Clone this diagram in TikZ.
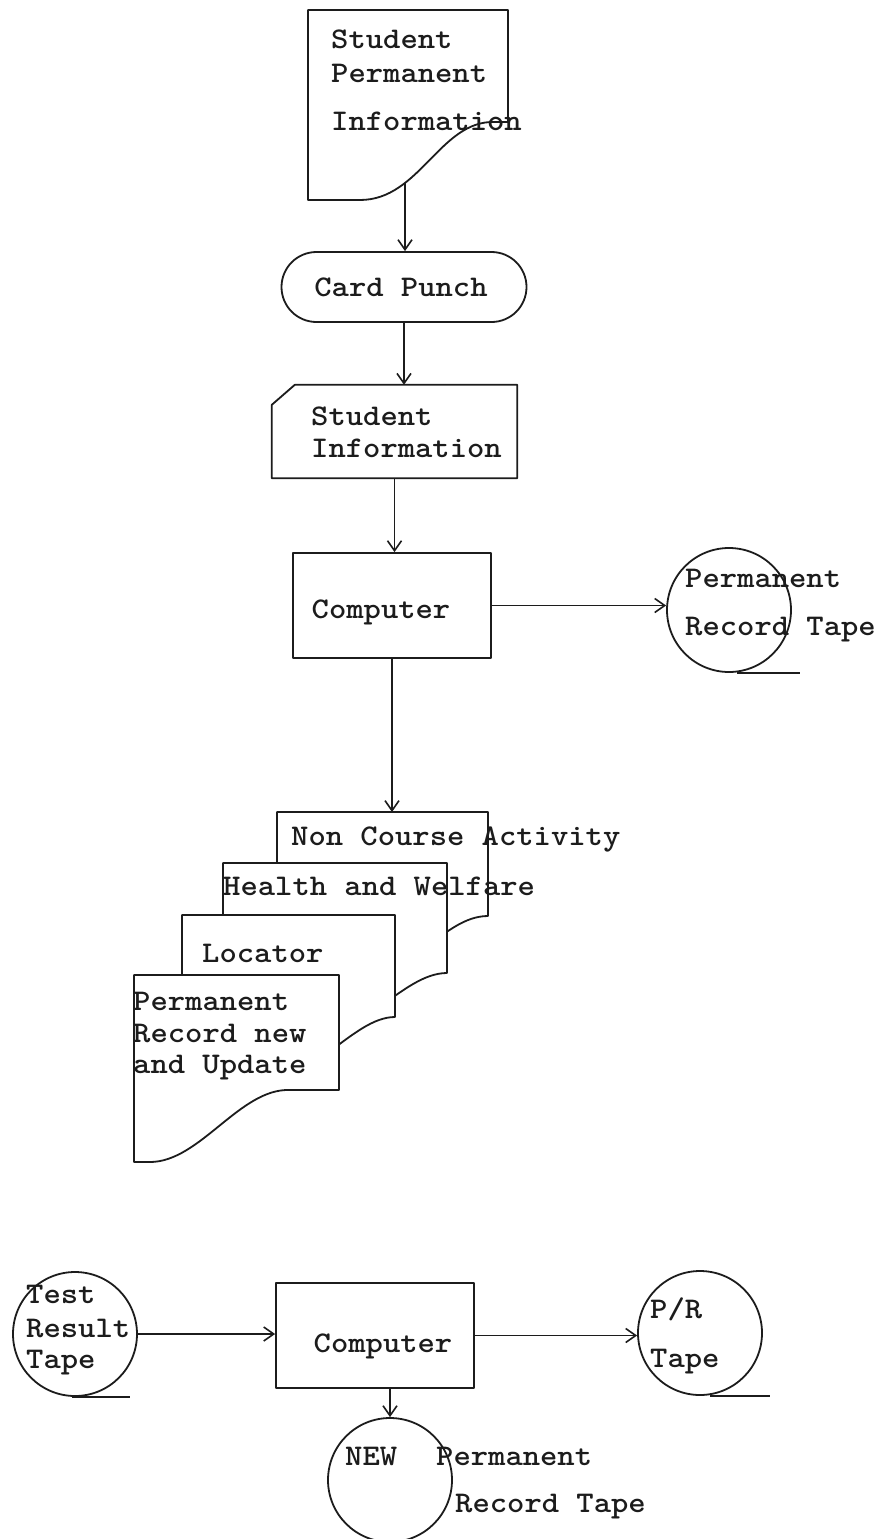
\documentclass[tikz,border=0pt]{standalone}
\usepackage{fontspec}
\newfontfamily\typer{lmmonolt10-bold.otf}[FakeStretch=1.1]
\usetikzlibrary{arrows.meta,calc}
\definecolor{ink}{HTML}{1C1C1C}

\begin{document}
\begin{tikzpicture}[x=1pt,y=-1pt,
  every node/.style={font=\typer\fontsize{30pt}{34pt}\selectfont, text=ink},
  line/.style={line width=1.8pt, draw=ink, line join=round},
  flow/.style={line, -{Straight Barb[length=10pt,width=14pt,line width=1.6pt]}},
  sheet/.style={line, fill=white},
  procbox/.style={line, rectangle, inner sep=0pt},
  tape/.style={line, circle, inner sep=0pt, minimum size=124pt},
  lbl/.style={anchor=base west, inner sep=0pt},
  ctr/.style={anchor=base, inner sep=0pt}]

\fill[white] (0,0) rectangle (884,1539);
\useasboundingbox (0,0) rectangle (884,1539);

% ---------- input document ----------
\draw[sheet] (308,10) -- (508,10) -- (508,122) -- (495,122)
  .. controls (440,120) and (420,200) .. (360,200) -- (308,200) -- cycle;
\coordinate (srcout) at (405,183);
\node[lbl] (src1) at (331,48)  {Student};
\node[lbl] (src2) at (331,82)  {Permanent};
\node[lbl] (src3) at (331,130) {Information};

% ---------- card punch ----------
\node[line, rectangle, rounded corners=35pt, minimum width=245pt,
      minimum height=70pt] (punch) at (404,287) {};
\node[ctr] (punchtxt) at (401,296) {Card Punch};

% ---------- punched cards ----------
\node[minimum width=245pt, minimum height=93pt, inner sep=0pt] (info) at (394.5,431.5) {};
\draw[sheet] ($(info.north west)+(23,0)$) -- (info.north east) -- (info.south east)
  -- (info.south west) -- ($(info.north west)+(0,20)$) -- cycle;
\node[lbl] (info1) at (311,425) {Student};
\node[lbl] (info2) at (311,457) {Information};

% ---------- computer ----------
\node[procbox, minimum width=198pt, minimum height=105pt] (comp1) at (392,605.5) {};
\node[ctr] (comp1txt) at (381,618) {Computer};

% ---------- permanent record tape ----------
\node[tape] (ptape) at (729,610) {};
\draw[line] (ptape.south) ++(8,0) -- ++(63,0);
\node[lbl] (ptape1) at (685,587) {Permanent};
\node[lbl] (ptape2) at (685,635) {Record Tape};

% ---------- report stack (back to front) ----------
\draw[sheet] (277,812) -- (488,812) -- (488,916)
  .. controls (442,916) and (410,982) .. (340,987) -- (277,987) -- cycle;
\coordinate (stacktop) at (392,812);
\draw[sheet] (223,863) -- (447,863) -- (447,973)
  .. controls (402,973) and (360,1042) .. (290,1047) -- (223,1047) -- cycle;
\draw[sheet] (182,915) -- (395,915) -- (395,1017)
  .. controls (352,1017) and (310,1088) .. (240,1092) -- (182,1092) -- cycle;
\draw[sheet] (134,975) -- (339,975) -- (339,1090) -- (290,1090)
  .. controls (240,1088) and (200,1162) .. (150,1162) -- (134,1162) -- cycle;
\node[lbl] (rep1) at (291,845)  {Non Course Activity};
\node[lbl] (rep2) at (223,895)  {Health and Welfare};
\node[lbl] (rep3) at (202,962)  {Locator};
\node[lbl] (rep4a) at (133,1010) {Permanent};
\node[lbl] (rep4b) at (133,1042) {Record new};
\node[lbl] (rep4c) at (133,1073) {and Update};

% ---------- update run ----------
\node[tape] (test) at (75,1334) {};
\draw[line] (test.south) ++(-3,0) -- ++(58,0);
\node[lbl] (test1) at (26,1303) {Test};
\node[lbl] (test2) at (26,1337) {Result};
\node[lbl] (test3) at (26,1368) {Tape};

\node[procbox, minimum width=198pt, minimum height=105pt] (comp2) at (375,1335.5) {};
\node[ctr] (comp2txt) at (383,1352) {Computer};

\node[tape] (prtape) at (700,1333) {};
\draw[line] (prtape.south) ++(10,0) -- ++(60,0);
\node[lbl] (pr1) at (650,1318) {P/R};
\node[lbl] (pr2) at (650,1367) {Tape};

\node[tape] (newtape) at (390,1480) {};
\draw[line] (newtape.south) ++(13,-1) -- ++(46,0);
\node[lbl] (new1) at (345,1465) {NEW};
\node[lbl] (new2) at (436,1465) {Permanent};
\node[lbl] (new3) at (455,1512) {Record Tape};

% ---------- flow lines ----------
\draw[flow] (srcout) -- (srcout |- punch.north);
\draw[flow] (punch.south) -- (punch.south |- info.north);
\draw[flow] (info.south) -- (info.south |- comp1.north);
\draw[flow] (comp1.east) -- (comp1.east -| ptape.west);
\draw[flow] (comp1.south) -- (stacktop);
\draw[flow] (test.east) -- (test.east -| comp2.west);
\draw[flow] (comp2.east) -- (comp2.east -| prtape.west);
\draw[flow] (comp2.south -| newtape.north) -- (newtape.north);
\end{tikzpicture}
\end{document}
